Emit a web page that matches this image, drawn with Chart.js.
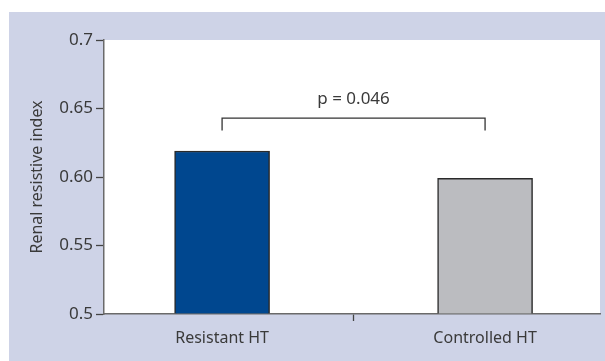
<!DOCTYPE html>
<html>
<head>
<meta charset="utf-8">
<script src="https://cdn.jsdelivr.net/npm/chart.js@4"></script>
<style>
html,body{margin:0;padding:0;background:#fff;}
#wrap{width:605px;height:361px;}
</style>
</head>
<body>
<div id="wrap"><canvas id="chart" width="605" height="361"></canvas></div>
<script>
const categories = ["Resistant HT","Controlled HT"];
const categoryPos = [1,2];
const rriValues = [0.619,0.599];
const barColors = ["#00478f","#bbbcc0"];
const yTickValues = [0.5,0.55,0.6,0.65,0.7];
const yTickLabels = ["0.5","0.55","0.60","0.65","0.7"];
const bracketY = 0.643;
const bracketFootY = 0.634;
const pText = "p = 0.046";
const pTextY = 0.657;

const textColor = "#3a3a3a";
const axisColor = "#6a6a6a";

/* lavender panel + white plot area */
const panelBg = {
id:"panelBg",
beforeDraw(chart){
const {ctx,chartArea:a} = chart;
ctx.save();
ctx.fillStyle = "#ced3e7";
ctx.fillRect(9,12,chart.width-9,chart.height-12);
ctx.fillStyle = "#ffffff";
ctx.fillRect(a.left,a.top,a.right-a.left,a.bottom-a.top);
ctx.restore();
}
};

/* significance bracket */
const bracket = {
id:"bracket",
afterDatasetsDraw(chart){
const {ctx,scales:{x,y}} = chart;
const x1 = x.getPixelForValue(categoryPos[0]);
const x2 = x.getPixelForValue(categoryPos[1]);
const yb = y.getPixelForValue(bracketY);
const yf = y.getPixelForValue(bracketFootY);
ctx.save();
ctx.strokeStyle = "#333";
ctx.lineWidth = 1.3;
ctx.beginPath();
ctx.moveTo(x1,yf);
ctx.lineTo(x1,yb);
ctx.lineTo(x2,yb);
ctx.lineTo(x2,yf);
ctx.stroke();
ctx.fillStyle = textColor;
ctx.font = "17px 'Noto Sans'";
ctx.textAlign = "center";
ctx.textBaseline = "middle";
ctx.fillText(pText,(x1+x2)/2,y.getPixelForValue(pTextY));
ctx.restore();
}
};

new Chart(document.getElementById("chart"),{
type:"bar",
data:{
datasets:[{
data: categoryPos.map((p,i)=>({x:p,y:rriValues[i]})),
backgroundColor: barColors,
borderColor:"#2a2a2a",
borderWidth:1.5,
base:0.5,
barThickness:95
}]
},
options:{
responsive:false,
animation:false,
layout:{padding:{left:9,top:40,right:5,bottom:0}},
plugins:{legend:{display:false},tooltip:{enabled:false}},
scales:{
x:{
type:"linear",
offset:false,
min:0.551,
max:2.437,
afterBuildTicks:(s)=>{ s.ticks = [{value:1},{value:1.5},{value:2}]; },
afterFit:(s)=>{ s.height = 47; },
grid:{
offset:false,
drawOnChartArea:false,
tickLength:7,
tickWidth:1.3,
tickColor:(c)=> c.tick && c.tick.value===1.5 ? "#444" : "rgba(0,0,0,0)"
},
border:{color:axisColor,width:1.5},
ticks:{
color:textColor,
padding:8,
maxRotation:0,
autoSkip:false,
font:{family:"Noto Sans",size:16},
callback:(v)=>{ const i = categoryPos.indexOf(v); return i>=0 ? categories[i] : ""; }
}
},
y:{
min:0.5,
max:0.7,
afterBuildTicks:(s)=>{ s.ticks = yTickValues.map(v=>({value:v})); },
afterFit:(s)=>{ s.width = 95; },
grid:{
drawOnChartArea:false,
tickLength:8,
tickWidth:1.3,
tickColor:"#444"
},
border:{color:axisColor,width:1.5},
ticks:{
color:textColor,
padding:3,
font:{family:"Noto Sans",size:17},
callback:(v,i)=> yTickLabels[i]
},
title:{
display:true,
text:"Renal resistive index",
color:textColor,
font:{family:"Noto Sans",size:16},
padding:{top:19,bottom:0}
}
}
}
},
plugins:[panelBg,bracket]
});
</script>
</body>
</html>
